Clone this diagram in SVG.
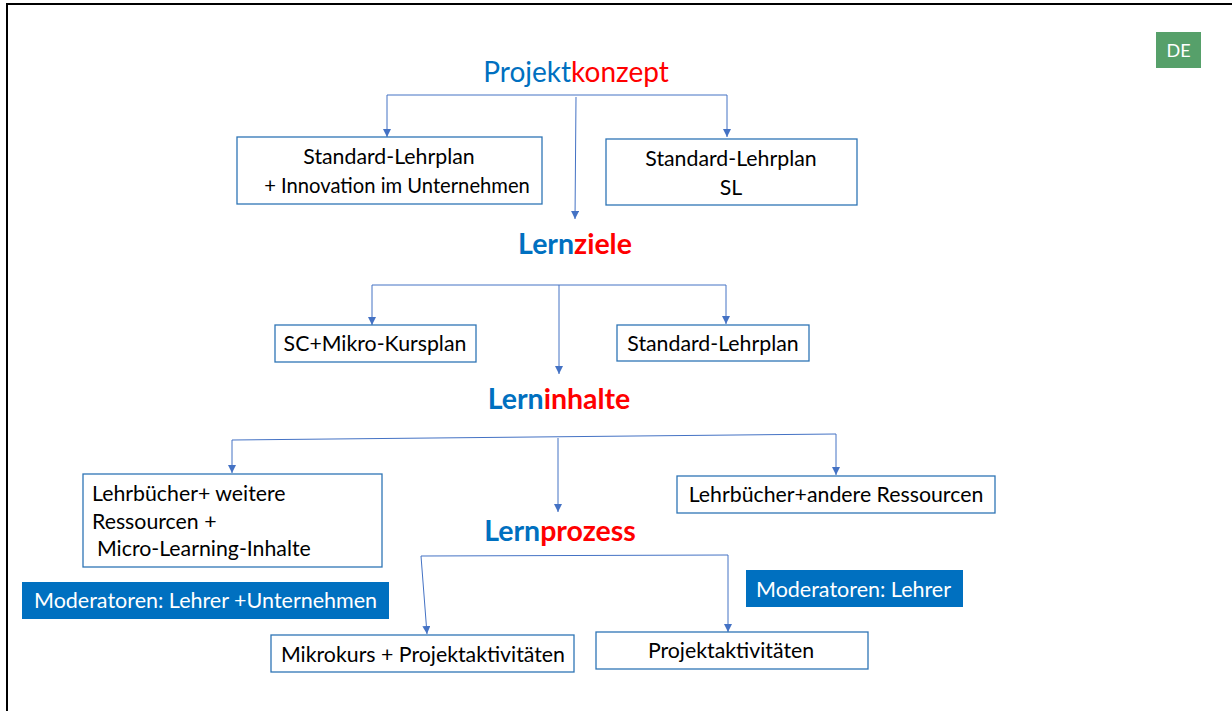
<svg xmlns="http://www.w3.org/2000/svg" width="1232" height="711" viewBox="0 0 1232 711">
<defs>
<style>
.box{fill:#fff;stroke:#2E75B6;stroke-width:1.3}
.mod{fill:#0070C0}
.t{font-family:Lato,"Liberation Sans",sans-serif;font-size:21.3px;fill:#000}
.tw{font-family:Lato,"Liberation Sans",sans-serif;font-size:21.5px;fill:#fff}
.h{font-family:Lato,"Liberation Sans",sans-serif;font-size:28px}
.hb{font-family:Lato,"Liberation Sans",sans-serif;font-size:28.5px;font-weight:bold}
.b{fill:#0070C0}
.r{fill:#FF0000}
.c{fill:none;stroke:#4472C4;stroke-width:1}
</style>
<marker id="ar" markerWidth="10" markerHeight="10" refX="8" refY="4" orient="auto" markerUnits="userSpaceOnUse">
<path d="M0,0 L8,4 L0,8 z" fill="#4472C4"/>
</marker>
</defs>
<rect width="1232" height="711" fill="#fff"/>
<path d="M7,720 L7,4 L1240,4" fill="none" stroke="#000" stroke-width="2"/>

<g id="badge">
<rect x="1156" y="32" width="45" height="36" fill="#56A06A"/>
<text x="1178.5" y="57" text-anchor="middle" font-family="Lato,'Liberation Sans',sans-serif" font-size="18" fill="#fff">DE</text>
</g>

<g id="connectors">
<line class="c" x1="387" y1="95" x2="727" y2="95"/>
<line class="c" x1="387" y1="95" x2="387" y2="137" marker-end="url(#ar)"/>
<line class="c" x1="727" y1="95" x2="727" y2="137" marker-end="url(#ar)"/>
<line class="c" x1="576" y1="97" x2="575" y2="219" marker-end="url(#ar)"/>

<line class="c" x1="372" y1="285" x2="726" y2="285"/>
<line class="c" x1="372" y1="285" x2="372" y2="325" marker-end="url(#ar)"/>
<line class="c" x1="726" y1="285" x2="726" y2="324" marker-end="url(#ar)"/>
<line class="c" x1="559" y1="285" x2="559" y2="374" marker-end="url(#ar)"/>

<line class="c" x1="232" y1="440" x2="836" y2="434"/>
<line class="c" x1="232" y1="440" x2="232" y2="473" marker-end="url(#ar)"/>
<line class="c" x1="836" y1="434" x2="836" y2="475" marker-end="url(#ar)"/>
<line class="c" x1="558" y1="438" x2="558" y2="512" marker-end="url(#ar)"/>

<line class="c" x1="421" y1="556" x2="728" y2="555"/>
<line class="c" x1="421" y1="556" x2="427" y2="634" marker-end="url(#ar)"/>
<line class="c" x1="728" y1="555" x2="728" y2="632" marker-end="url(#ar)"/>
</g>

<g id="projektkonzept">
<text class="h" x="576" y="82" text-anchor="middle"><tspan class="b">Projekt</tspan><tspan class="r">konzept</tspan></text>
</g>
<g id="box-a">
<rect class="box" x="237" y="137" width="305" height="67"/>
<text class="t" x="389" y="164" text-anchor="middle">Standard-Lehrplan</text>
<text class="t" x="397" y="193" text-anchor="middle" style="font-size:20.2px">+ Innovation im Unternehmen</text>
</g>
<g id="box-b">
<rect class="box" x="606" y="139" width="251" height="66"/>
<text class="t" x="731" y="166" text-anchor="middle">Standard-Lehrplan</text>
<text class="t" x="731" y="195" text-anchor="middle">SL</text>
</g>

<g id="lernziele">
<text class="hb" x="575" y="254" text-anchor="middle"><tspan class="b">Lern</tspan><tspan class="r">ziele</tspan></text>
</g>
<g id="box-c">
<rect class="box" x="275" y="325" width="201" height="37"/>
<text class="t" x="375" y="351" text-anchor="middle">SC+Mikro-Kursplan</text>
</g>
<g id="box-d">
<rect class="box" x="617" y="325" width="192" height="36"/>
<text class="t" x="713" y="351" text-anchor="middle">Standard-Lehrplan</text>
</g>

<g id="lerninhalte">
<text class="hb" x="559" y="409" text-anchor="middle"><tspan class="b">Lern</tspan><tspan class="r">inhalte</tspan></text>
</g>
<g id="box-e">
<rect class="box" x="83" y="474" width="299" height="93"/>
<text class="t" x="92" y="501">Lehrbücher+ weitere</text>
<text class="t" x="92" y="529">Ressourcen +</text>
<text class="t" x="97" y="556">Micro-Learning-Inhalte</text>
</g>
<g id="box-f">
<rect class="box" x="677" y="476" width="318" height="37"/>
<text class="t" x="836" y="502" text-anchor="middle">Lehrbücher+andere Ressourcen</text>
</g>

<g id="lernprozess">
<text class="hb" x="560" y="541" text-anchor="middle"><tspan class="b">Lern</tspan><tspan class="r">prozess</tspan></text>
</g>
<g id="mod-1">
<rect class="mod" x="22" y="582" width="367" height="37"/>
<text class="tw" x="34" y="608">Moderatoren: Lehrer +Unternehmen</text>
</g>
<g id="mod-2">
<rect class="mod" x="746" y="570" width="217" height="37"/>
<text class="tw" x="756" y="597">Moderatoren: Lehrer</text>
</g>
<g id="box-g">
<rect class="box" x="271" y="635" width="303" height="37"/>
<text class="t" x="423" y="662" text-anchor="middle">Mikrokurs + Projektaktivitäten</text>
</g>
<g id="box-h">
<rect class="box" x="596" y="632" width="272" height="37"/>
<text class="t" x="731" y="658" text-anchor="middle">Projektaktivitäten</text>
</g>
</svg>
